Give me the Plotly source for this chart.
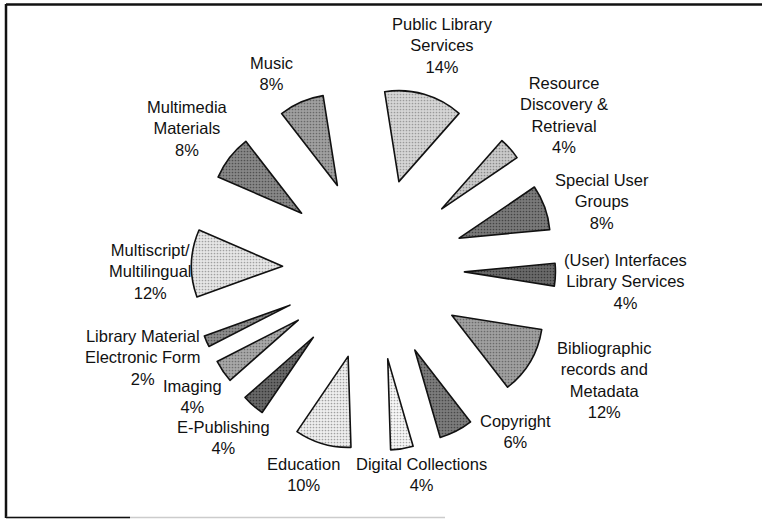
import plotly.graph_objects as go

categories = [
    "Public Library Services",
    "Resource Discovery & Retrieval",
    "Special User Groups",
    "(User) Interfaces Library Services",
    "Bibliographic records and Metadata",
    "Copyright",
    "Digital Collections",
    "Education",
    "E-Publishing",
    "Imaging",
    "Library Material Electronic Form",
    "Multiscript/ Multilingual",
    "Multimedia Materials",
    "Music",
]
label_lines = [
    "Public Library<br>Services",
    "Resource<br>Discovery &<br>Retrieval",
    "Special User<br>Groups",
    "(User) Interfaces<br>Library Services",
    "Bibliographic<br>records and<br>Metadata",
    "Copyright",
    "Digital Collections",
    "Education",
    "E-Publishing",
    "Imaging",
    "Library Material<br>Electronic Form",
    "Multiscript/<br>Multilingual",
    "Multimedia<br>Materials",
    "Music",
]
values = [14, 4, 8, 4, 12, 6, 4, 10, 4, 4, 2, 12, 8, 8]

# ---- styling (not data) ----
W, H = 762, 519
fill_colors = ["#d6d6d6", "#cacaca", "#7a7a7a", "#6a6a6a", "#a0a0a0", "#7c7c7c",
               "#f7f7f7", "#eeeeee", "#686868", "#a8a8a8", "#8c8c8c", "#e6e6e6",
               "#888888", "#a0a0a0"]
dot_colors = ["#9a9a9a", "#8a8a8a", "#444444", "#383838", "#6a6a6a", "#484848",
              "#a8a8a8", "#a0a0a0", "#353535", "#707070", "#555555", "#a0a0a0",
              "#505050", "#686868"]
# label centres in pixels (layout positions for the text callouts)
label_px = [(442, 45), (564, 115), (602, 201), (625, 281), (604, 380), (515, 431),
            (421, 474), (303, 474), (223, 437), (193, 396), (143, 357), (150, 271),
            (187, 128), (271, 74)]

fig = go.Figure(go.Pie(
    labels=categories,
    values=values,
    sort=False,
    direction="clockwise",
    rotation=-9,
    pull=[1.0] * len(values),
    textinfo="none",
    automargin=False,
    marker=dict(
        colors=fill_colors,
        line=dict(color="#111111", width=1.6),
        pattern=dict(shape=".", bgcolor=fill_colors, fgcolor=dot_colors,
                     size=3, solidity=0.25, fillmode="replace"),
    ),
    domain=dict(x=[(373.5 - 182) / W, (373.5 + 182) / W],
                y=[(H - 269 - 182) / H, (H - 269 + 182) / H]),
    hoverinfo="skip",
    showlegend=False,
))

annotations = []
for txt, v, (px, py) in zip(label_lines, values, label_px):
    annotations.append(dict(
        text=f"{txt}<br>{v}%", xref="paper", yref="paper",
        x=px / W, y=1 - py / H, xanchor="center", yanchor="middle",
        align="center", showarrow=False,
        font=dict(family="Liberation Sans, Arial, sans-serif", size=16.5, color="#111111"),
    ))

fig.update_layout(
    width=W, height=H,
    margin=dict(l=0, r=0, t=0, b=0, pad=0, autoexpand=False),
    paper_bgcolor="white",
    plot_bgcolor="white",
    font=dict(family="Liberation Sans, Arial, sans-serif", color="#111111"),
    annotations=annotations,
    shapes=[
        dict(type="line", xref="paper", yref="paper", x0=6 / W, x1=1.0, y0=1 - 4.5 / H, y1=1 - 4.5 / H,
             line=dict(color="#111111", width=2.5)),
        dict(type="line", xref="paper", yref="paper", x0=6 / W, x1=6 / W, y0=1 - 4 / H, y1=1 - 518 / H,
             line=dict(color="#111111", width=2.5)),
        dict(type="line", xref="paper", yref="paper", x0=6 / W, x1=445 / W, y0=1 - 517.5 / H, y1=1 - 517.5 / H,
             line=dict(color="#cccccc", width=1.5)),
        dict(type="line", xref="paper", yref="paper", x0=6 / W, x1=130 / W, y0=1 - 517.5 / H, y1=1 - 517.5 / H,
             line=dict(color="#111111", width=1.5)),
    ],
)

fig.write_html("out.html", config={"displayModeBar": False},
               post_script="document.body.style.margin='0';document.body.style.overflow='hidden';")
